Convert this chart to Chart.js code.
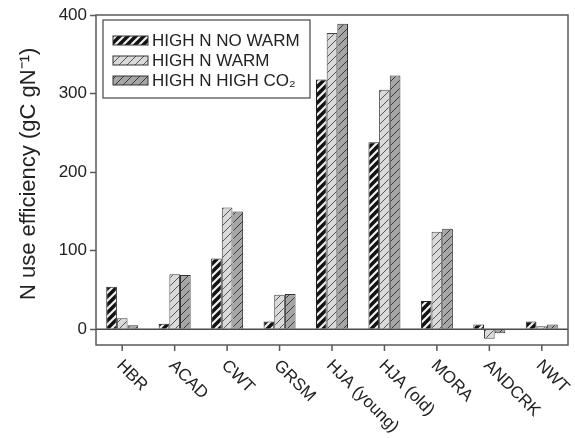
<!DOCTYPE html>
<html>
<head>
<meta charset="utf-8">
<script src="https://cdn.jsdelivr.net/npm/chart.js@4/dist/chart.umd.min.js"></script>
<style>
  html, body { margin: 0; padding: 0; background: #fff; }
  #wrap { width: 575px; height: 438px; }
</style>
</head>
<body>
<div id="wrap"><canvas id="nue" width="575" height="438"></canvas></div>
<script>
// sites along the x axis
var sites = ['HBR', 'ACAD', 'CWT', 'GRSM', 'HJA (young)', 'HJA (old)', 'MORA', 'ANDCRK', 'NWT'];

// N use efficiency per treatment (gC gN-1)
var highNNoWarm = [54, 7, 90, 10, 318, 238, 36, 6, 10];
var highNWarm   = [14, 70, 155, 44, 377, 305, 124, -12, 4];
var highNHighCO2 = [5, 69, 150, 45, 389, 323, 128, -5, 6];

var seriesLabels = ['HIGH N NO WARM', 'HIGH N WARM', 'HIGH N HIGH CO\u2082'];
var yTicks = [0, 100, 200, 300, 400];

var FONT = 'Liberation Sans, Arial, sans-serif';
var INK = '#222';
var FRAME = '#5a5a5a';

function hatch(bg, line, lw) {
    var s = 8;
    var c = document.createElement('canvas');
    c.width = s; c.height = s;
    var g = c.getContext('2d');
    g.fillStyle = bg;
    g.fillRect(0, 0, s, s);
    g.strokeStyle = line;
    g.lineWidth = lw;
    g.beginPath();
    g.moveTo(-2, s + 2); g.lineTo(s + 2, -2);
    g.moveTo(-2, 2); g.lineTo(2, -2);
    g.moveTo(s - 2, s + 2); g.lineTo(s + 2, s - 2);
    g.stroke();
    return g.createPattern(c, 'repeat');
}

var fills = [
    hatch('#121212', '#f2f2f2', 2.2),
    hatch('#dadada', '#555', 1),
    hatch('#a6a6a6', '#3a3a3a', 1)
];

// frame, zero line, inside legend and slanted site labels
var decor = {
    id: 'decor',
    afterDatasetsDraw: function(chart) {
        var ctx = chart.ctx;
        var a = chart.chartArea;
        var y = chart.scales.y, x = chart.scales.x;
        ctx.save();
        // zero line
        ctx.strokeStyle = '#4a4a4a';
        ctx.lineWidth = 1.5;
        ctx.beginPath();
        ctx.moveTo(a.left, y.getPixelForValue(0));
        ctx.lineTo(a.right, y.getPixelForValue(0));
        ctx.stroke();
        // frame
        ctx.strokeStyle = FRAME;
        ctx.lineWidth = 1.5;
        ctx.strokeRect(a.left, a.top, a.right - a.left, a.bottom - a.top);
        // x tick marks
        ctx.beginPath();
        sites.forEach(function(s, i) {
            var px = x.getPixelForValue(i);
            ctx.moveTo(px, a.bottom);
            ctx.lineTo(px, a.bottom + 6);
        });
        ctx.stroke();
        // legend
        var lx = a.left + 7, ly = a.top + 5;
        ctx.fillStyle = '#fff';
        ctx.fillRect(lx, ly, 207, 78);
        ctx.strokeStyle = '#444';
        ctx.lineWidth = 1.2;
        ctx.strokeRect(lx, ly, 207, 78);
        ctx.font = '17px ' + FONT;
        ctx.textBaseline = 'middle';
        ctx.textAlign = 'left';
        seriesLabels.forEach(function(lab, i) {
            var cy = ly + 20 + i * 20;
            ctx.fillStyle = fills[i];
            ctx.fillRect(lx + 10, cy - 4, 35, 9);
            ctx.strokeStyle = '#333';
            ctx.lineWidth = 1;
            ctx.strokeRect(lx + 10, cy - 4, 35, 9);
            ctx.fillStyle = INK;
            ctx.fillText(lab, lx + 49, cy + 1);
        });
        // site labels at 45 degrees
        ctx.font = '17px ' + FONT;
        ctx.fillStyle = INK;
        sites.forEach(function(s, i) {
            var px = x.getPixelForValue(i);
            ctx.save();
            ctx.translate(px - 3, a.bottom + 18);
            ctx.rotate(Math.PI / 4);
            ctx.textAlign = 'left';
            ctx.textBaseline = 'middle';
            ctx.fillText(s, 0, 0);
            ctx.restore();
        });
        ctx.restore();
    }
};

var chart_nue = new Chart(document.getElementById('nue'), {
    type: 'bar',
    data: {
        labels: sites,
        datasets: [
            { label: seriesLabels[0], data: highNNoWarm, backgroundColor: fills[0], borderColor: '#222', borderWidth: 1 },
            { label: seriesLabels[1], data: highNWarm, backgroundColor: fills[1], borderColor: '#444', borderWidth: 1 },
            { label: seriesLabels[2], data: highNHighCO2, backgroundColor: fills[2], borderColor: '#333', borderWidth: 1 }
        ]
    },
    options: {
        animation: false,
        responsive: false,
        categoryPercentage: 0.61,
        barPercentage: 1.0,
        layout: { padding: { left: 0, top: 15, right: 7, bottom: 0 } },
        plugins: {
            legend: { display: false },
            tooltip: { enabled: false }
        },
        scales: {
            x: {
                ticks: { display: false },
                grid: { display: false },
                border: { display: false },
                afterFit: function(scale) { scale.height = 93; }
            },
            y: {
                min: -20,
                max: 400,
                afterBuildTicks: function(scale) {
                    scale.ticks = yTicks.map(function(v) { return { value: v }; });
                },
                ticks: {
                    color: INK,
                    padding: 3,
                    font: { family: FONT, size: 17 }
                },
                grid: {
                    drawOnChartArea: false,
                    tickLength: 6,
                    tickColor: FRAME,
                    tickWidth: 1.5
                },
                border: { display: false },
                title: {
                    display: true,
                    text: '  N use efficiency (gC gN\u207B\u00B9)',
                    color: INK,
                    font: { family: FONT, size: 22 },
                    padding: { top: 16, bottom: 0 }
                },
                afterFit: function(scale) { scale.width = 96; }
            }
        }
    },
    plugins: [decor]
});
</script>
</body>
</html>
